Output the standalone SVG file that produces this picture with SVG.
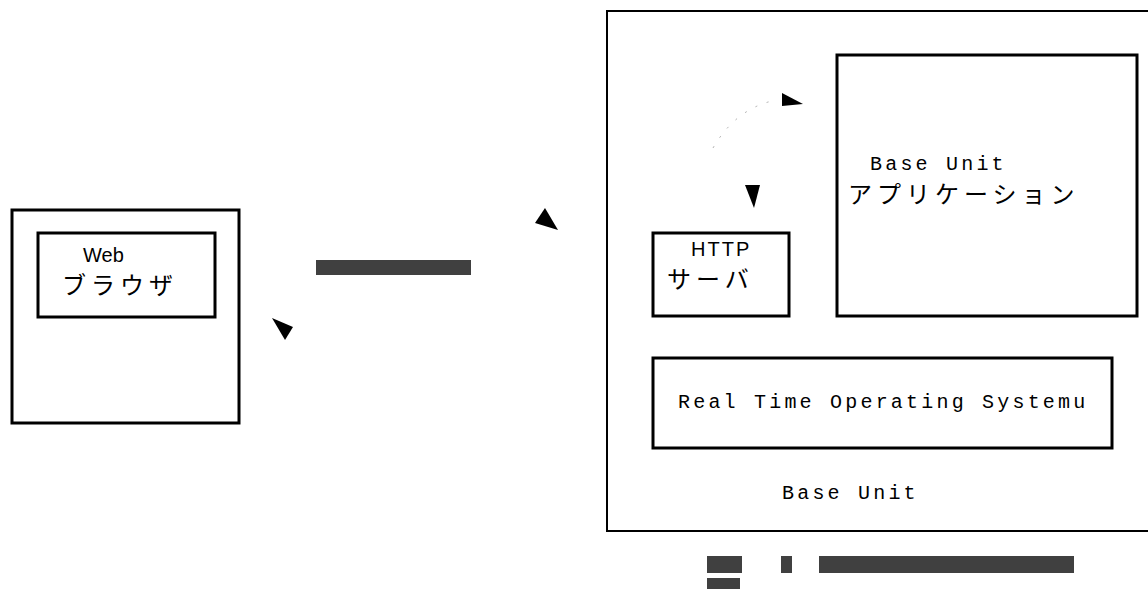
<svg xmlns="http://www.w3.org/2000/svg" width="1148" height="590" viewBox="0 0 1148 590">
<style>
.box{fill:#fff;stroke:#000;stroke-width:3}
.thin{fill:none;stroke:#000;stroke-width:2}
.t{font-family:"Liberation Sans","Noto Sans CJK JP",sans-serif;fill:#000}
.m{font-family:"Liberation Mono","Noto Sans CJK JP",monospace;fill:#000;font-size:20px;letter-spacing:3.2px}
.j{font-family:"Noto Sans CJK JP",sans-serif;fill:#000}
.bar{fill:#404040}
.ah{fill:#000}
</style>
<rect width="1148" height="590" fill="#fff"/>
<g id="client">
<rect class="box" x="12" y="210" width="227" height="213"/>
</g>
<g id="browser">
<rect class="box" x="38" y="233" width="177" height="84"/>
<text class="t" x="83" y="262" font-size="20">Web</text>
<text class="j" x="62" y="294" font-size="24" letter-spacing="5">ブラウザ</text>
</g>
<g id="baseunit">
<path class="thin" d="M1148 11 H607 V531 H1148"/>
<text class="m" x="782" y="499">Base Unit</text>
</g>
<g id="app">
<rect class="box" x="837" y="55" width="300" height="261"/>
<text class="m" x="870" y="170">Base Unit</text>
<text class="j" x="848" y="203" font-size="24" letter-spacing="5">アプリケーション</text>
</g>
<g id="http">
<rect class="box" x="653" y="233" width="136" height="83"/>
<text class="t" x="691" y="256" font-size="20" letter-spacing="2">HTTP</text>
<text class="j" x="667" y="288" font-size="24" letter-spacing="5">サーバ</text>
</g>
<g id="rtos">
<rect class="box" x="653" y="358" width="459" height="90"/>
<text class="m" x="678" y="408">Real Time Operating Systemu</text>
</g>
<g id="connectors">
<rect class="bar" x="316" y="260" width="155" height="15"/>
<path class="ah" d="M272 318 L293 327 L285 340 Z"/>
<path class="ah" d="M545 208 L535 223 L558 230 Z"/>
<path d="M713 148 Q735 110 772 101" fill="none" stroke="#999" stroke-width="0.8" stroke-dasharray="2 10"/>
<path class="ah" d="M782 93 L803 104 L782 106 Z"/>
<path class="ah" d="M745 185 L760 185 L754 208 Z"/>
</g>
<g id="redacted">
<rect class="bar" x="707" y="556" width="35" height="17"/>
<rect class="bar" x="781" y="556" width="11" height="17"/>
<rect class="bar" x="819" y="556" width="255" height="17"/>
<rect class="bar" x="707" y="578" width="33" height="11"/>
</g>
</svg>
